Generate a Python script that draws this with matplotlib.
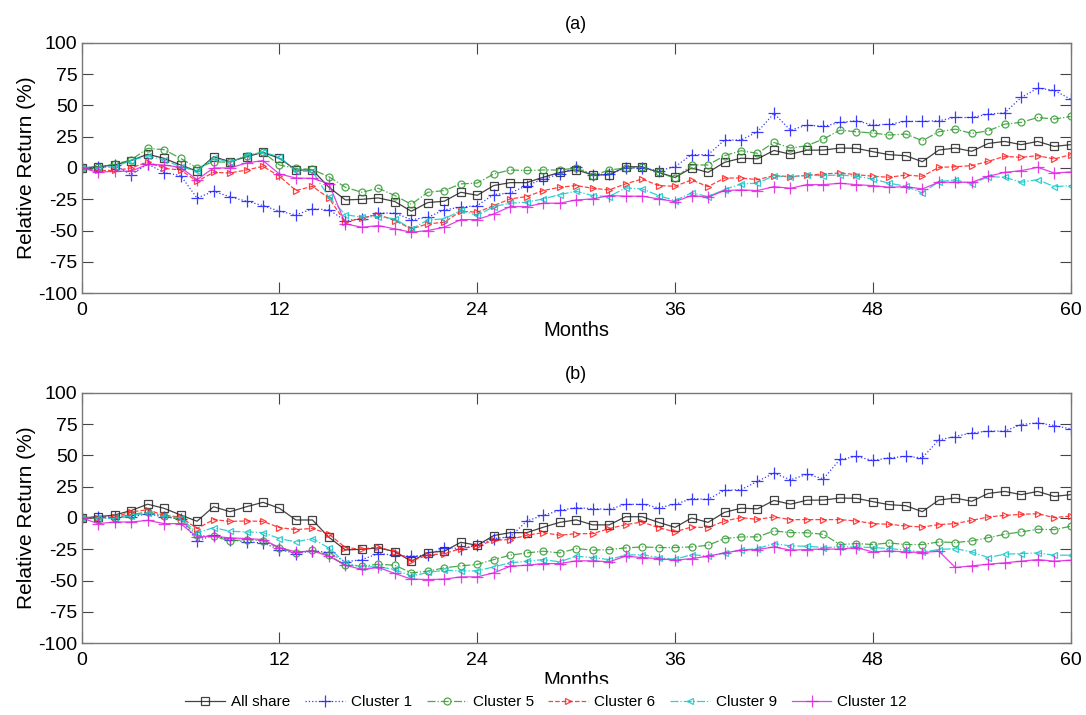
import matplotlib
matplotlib.use("Agg")
import matplotlib.pyplot as plt
import numpy as np

plt.rcParams['font.family'] = ['Liberation Sans', 'DejaVu Sans']
plt.rcParams['axes.unicode_minus'] = False

months = list(range(61))

all_share = [0, 1, 2.4, 5.9, 11, 7.7, 2.4, -2.6, 9, 5, 9, 12.5, 7.7, -1.6, -1.6, -15.4,
             -25.5, -25, -23.9, -26.8, -34.5, -27.6, -26.5, -19.4, -21.8, -14, -11.7, -11.7, -7.4,
             -3.5, -1.5, -5.5, -5.5, 1, 1, -3.5, -7.5, 0, -3.5, 4.5, 7.8, 7.3, 14, 11, 14.2,
             14.3, 15.9, 15.7, 13, 10.6, 9.8, 5, 14.3, 15.9, 13.3, 19.6, 21.2, 18.6, 21.2, 17.2, 18.6]

a_c1 = [0, 0.8, 2.4, -5.3, 3.2, -3.7, -6, -24, -18.6, -23, -26.5, -30, -34.5, -37.4, -32.6, -33.4,
        -42, -40.6, -36, -36, -41.2, -39.3, -33.4, -31.3, -30, -21.2, -20, -14, -8.8,
        -4.8, 1, -5.6, -4.8, 0, 0, -2.1, 1, 10.6, 10.6, 22.3, 22.3, 28.9, 43.5, 30.2, 34.2,
        33.2, 36.4, 37.7, 34.2, 35, 37.2, 37.2, 37.7, 40.3, 40.3, 43, 44, 56.3, 63.7, 62, 54.9]
a_c5 = [0, 1, 3, 6.4, 15.7, 14.6, 7.7, 0, 5, 4.5, 9.8, 12.5, 2.4, -0.3, -1.2, -7,
        -15.4, -19.4, -16.2, -22, -29, -19.4, -18, -12.7, -12, -4.8, -1.6, -2, -1.6,
        -1.6, 0, -6.1, -1.6, 0, 0.5, -3.5, -8.2, 2.4, 2.4, 9.8, 13.8, 11.7, 20.4, 15.9, 17.8,
        23.1, 30.2, 28.9, 27.9, 26.3, 27.1, 21.8, 28.9, 31, 27.6, 29.7, 35, 36.4, 40.3, 39, 41.1]
a_c6 = [0, -2, -2, 0, 4.8, -0.3, -1.6, -10.6, -3.5, -4, -1.6, 1.3, -6.6, -18, -14.6, -24,
        -43.3, -39.8, -37.2, -42, -48.6, -44.6, -43.3, -34.5, -35.3, -30, -24.7, -22.8, -18,
        -15.4, -14, -16.2, -17.5, -12.7, -8.8, -14, -14.6, -9.5, -14.9, -8, -8, -9.3, -6.1, -6.9, -5.8,
        -4.8, -4, -5.3, -6.6, -7.4, -5.6, -6.6, 0.5, 1, 1.9, 5.3, 9.3, 8.5, 9.8, 7.2, 10.6]
a_c9 = [0, 0, 1, 5.9, 9.8, 6.4, 1, -2.6, 8, 4.5, 10.3, 12.5, 9, -2.6, -2.6, -23.4,
        -37.2, -39.3, -38.8, -40.6, -48.6, -41.5, -40.6, -33.9, -37.9, -30.8, -28.1, -27.3, -24.7,
        -21.2, -18.6, -22, -22.8, -15.9, -16.7, -22, -26, -19.9, -22.8, -17.2, -12.7, -12.2, -6.1, -7.4, -5.8,
        -6.1, -5.6, -6.6, -8.8, -12.2, -14.6, -19.9, -10.9, -9.5, -12.7, -6.9, -7.4, -11.4, -9.3, -14.9, -14.1]
a_c12 = [0, -3.4, -2.6, -2.6, 2.9, 2.4, 0.5, -9.3, 0, 0, 4, 5.9, -4.8, -8, -8.3, -12.5,
         -44.6, -47.3, -46, -48.6, -51.3, -49.9, -47.3, -41.2, -41.2, -36.7, -30.8, -30.8, -28.1,
         -28.1, -25.5, -24.7, -22, -22.5, -22.5, -24.7, -26.8, -22, -23.3, -18, -17.5, -18, -14.9, -16.2, -13.3,
         -13.3, -12.2, -13.3, -14.1, -15.4, -14.9, -16.7, -11.4, -11.4, -11.4, -6.6, -3.5, -2.1, 0.5, -4, -3.2]

b_c1 = [0, 0.8, 0.8, 0.8, 3.4, 0.8, -0.5, -18.3, -13.8, -17.2, -19.1, -19.9, -25.2, -28.4, -26.3, -27.5,
        -35, -33.2, -28.4, -29.7, -30.5, -29.7, -23.6, -24.4, -21.8, -16.4, -15.1, -2.4, 2.1,
        6.1, 8.2, 7.4, 6.9, 10.9, 10.9, 8.2, 10.9, 15.4, 14.9, 22.1, 22.6, 29.2, 35.8, 30.5, 34.8,
        31.3, 46.7, 49.1, 45.9, 48, 49.1, 48, 62.4, 65, 67.9, 69.3, 69.3, 74.6, 75.9, 73.8, 71.1]
b_c5 = [0, -0.5, 0.3, 2.7, 4.8, 1.6, -1.3, -13.8, -14.6, -18.3, -17.2, -18.3, -23.9, -27.9, -25.7, -29.7,
        -37.7, -38.5, -36.9, -37.7, -43.8, -42.5, -39.8, -38.2, -37.1, -33.2, -29.7, -27.9, -26.5,
        -27.9, -24.4, -25.7, -25.2, -23.9, -23.1, -23.6, -23.6, -23.1, -21.8, -16.4, -15.1, -15.1, -10.3, -11.7, -11.8,
        -13, -21.2, -20.4, -21.2, -19.9, -21.2, -21.2, -19.1, -19.6, -18.3, -15.7, -13, -11.1, -9, -9.3, -6.6]
b_c6 = [0, 0, 0.8, 4.8, 6.6, 2.1, 0.8, -8.5, -1.3, -2.7, -2.4, -2.7, -7.7, -9.3, -8.3, -12.9,
        -23.6, -24.9, -23.1, -27.1, -34.2, -29.7, -28.4, -24.4, -22.5, -17.8, -17.2, -13.8, -11.7,
        -13.8, -12.5, -12.5, -8.5, -5.3, -3.2, -7.7, -11.1, -7.2, -7.7, -2.4, 0.3, -1.1, 0.8, -1.3, -1.3,
        -1.3, -1.3, -2.4, -4.5, -5, -6.4, -7.2, -5.3, -4.5, -1.9, 0.8, 2.1, 2.9, 3.4, 0.3, 1.6]
b_c9 = [0, 0, -0.5, 1.6, 4.2, 1.3, 0.3, -11.9, -7.7, -10.6, -11.1, -11.7, -16.4, -19.1, -16.4, -24,
        -35.8, -39, -39, -41.1, -46.4, -43.5, -41.7, -42.2, -42.2, -39, -35.8, -34.5, -33.2,
        -35, -30.5, -31.6, -33.2, -29.7, -29.2, -31.6, -33, -29.2, -30.5, -27.9, -25.7, -24.4, -20.4, -22.3, -22.5,
        -23.6, -23.1, -23.1, -23.6, -24.4, -25.7, -27.1, -25.2, -24.4, -27.1, -31.6, -28.9, -28.4, -27.9, -29.7, -29.7]
b_c12 = [0, -4.5, -3.2, -3.2, -1.9, -4.5, -4.5, -15.1, -14.6, -15.9, -16.4, -17.2, -23.6, -27.1, -26.3, -30.5,
         -37.7, -41.1, -39.5, -44.3, -48.8, -49.1, -48.8, -47, -47, -43.8, -38.5, -37.7, -36.4,
         -36.4, -34.2, -34.2, -35, -30.5, -31.6, -32.4, -33.7, -32.4, -30.5, -27.9, -25.7, -25.2, -23.1, -25.7, -25.2,
         -24.7, -24.9, -23.6, -27.1, -26.3, -27.1, -27.6, -26.5, -39.5, -38.2, -36.9, -35.8, -34.5, -33.2, -34.5, -33.7]

labels = ['All share', 'Cluster 1', 'Cluster 5', 'Cluster 6', 'Cluster 9', 'Cluster 12']
xticks = [0, 12, 24, 36, 48, 60]
yticks = [-100, -75, -50, -25, 0, 25, 50, 75, 100]

styles = [
    dict(color='#222222', ls='-', marker='s', mfc='none', ms=5.5),
    dict(color='#1a1aff', ls=':', marker='+', ms=8),
    dict(color='#2e9a2e', ls='-.', marker='o', mfc='none', ms=5),
    dict(color='#ff2020', ls='--', marker='>', mfc='none', ms=5),
    dict(color='#10c8c8', ls='-.', marker='<', mfc='none', ms=5),
    dict(color='#e020e0', ls='-', marker='+', ms=8),
]

fig = plt.figure(figsize=(10.86, 7.15), dpi=100)
axa = fig.add_axes([0.0752, 0.5898, 0.9107, 0.3505])
axb = fig.add_axes([0.0752, 0.1003, 0.9107, 0.3505])

panels = [(axa, '(a)', [all_share, a_c1, a_c5, a_c6, a_c9, a_c12]),
          (axb, '(b)', [all_share, b_c1, b_c5, b_c6, b_c9, b_c12])]

handles = []
for ax, title, series in panels:
    hs = []
    for s, st, lab in zip(series, styles, labels):
        h, = ax.plot(months, s, lw=0.9, mew=0.9, alpha=0.85, label=lab, **st)
        hs.append(h)
    handles = hs
    ax.set_xlim(0, 60)
    ax.set_ylim(-100, 100)
    ax.set_xticks(xticks)
    ax.set_yticks(yticks)
    ax.tick_params(direction='in', length=8, width=0.8, top=True, right=True,
                   labelsize=14, color='#444444')
    ax.tick_params(axis='x', pad=6)
    ax.tick_params(axis='y', pad=3)
    for sp in ax.spines.values():
        sp.set_color('#777777')
        sp.set_linewidth(1.0)
    ax.set_title(title, fontsize=13, pad=10)
    ax.set_xlabel('Months', fontsize=14.5, labelpad=2)
    ax.set_ylabel('Relative Return (%)', fontsize=15, labelpad=2)

leg = fig.legend(handles, labels, loc='center', bbox_to_anchor=(0.503, 0.018), ncol=6,
                 frameon=True, fontsize=11, handlelength=2.6, columnspacing=0.96,
                 handletextpad=0.4, borderpad=0.7, fancybox=False, framealpha=1)
leg.get_frame().set_edgecolor('white')
leg.get_frame().set_facecolor('white')
leg.set_zorder(10)

fig.savefig('out.png', dpi=100)
